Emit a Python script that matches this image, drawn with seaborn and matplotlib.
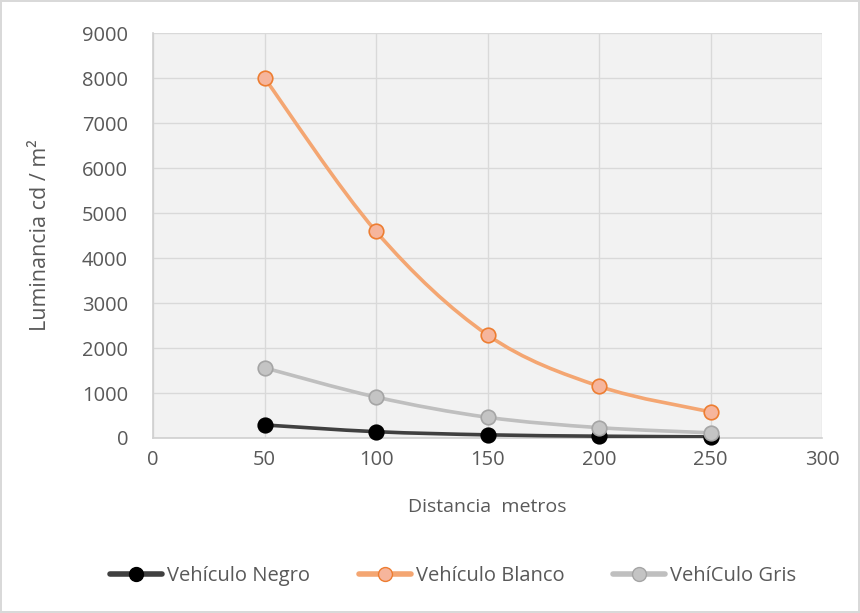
import numpy as np
import pandas as pd
import seaborn as sns
import matplotlib
matplotlib.use("Agg")
import matplotlib.pyplot as plt
from matplotlib.path import Path
from matplotlib.patches import PathPatch
from matplotlib.lines import Line2D

distancia = [50, 100, 150, 200, 250]
negro = [290, 140, 70, 40, 25]
blanco = [8000, 4590, 2290, 1150, 580]
gris = [1560, 910, 460, 230, 115]
series_names = ["Vehículo Negro", "Vehículo Blanco", "VehíCulo Gris"]
x_ticks = [0, 50, 100, 150, 200, 250, 300]
y_ticks = [0, 1000, 2000, 3000, 4000, 5000, 6000, 7000, 8000, 9000]

sns.set_theme(style="white")
plt.rcParams["font.family"] = ["Open Sans", "DejaVu Sans"]

fig = plt.figure(figsize=(8.6, 6.13), dpi=100)
fig.patch.set_facecolor("white")
fig.patch.set_edgecolor("#d9d9d9")
fig.patch.set_linewidth(1.5)
ax = fig.add_axes([0.178, 0.2855, 0.778, 0.6605])
ax.set_facecolor("#f2f2f2")

styles = [
    dict(line="#404040", face="#000000", edge="#000000"),
    dict(line="#f4a672", face="#f6b59c", edge="#ed7d31"),
    dict(line="#bfbfbf", face="#c4c4c4", edge="#a5a5a5"),
]

df = pd.DataFrame({"x": distancia * 3,
                   "y": negro + blanco + gris,
                   "serie": sum([[n] * 5 for n in series_names], [])})


def smooth_path(xs, ys):
    pts = np.column_stack([xs, ys]).astype(float)
    n = len(pts)
    verts = [pts[0]]
    codes = [Path.MOVETO]
    for i in range(n - 1):
        p0 = pts[max(i - 1, 0)]
        p1 = pts[i]
        p2 = pts[i + 1]
        p3 = pts[min(i + 2, n - 1)]
        c1 = p1 + (p2 - p0) / 6.0
        c2 = p2 - (p3 - p1) / 6.0
        verts += [c1, c2, p2]
        codes += [Path.CURVE4] * 3
    return Path(verts, codes)


for name, st, vals in zip(series_names, styles, [negro, blanco, gris]):
    patch = PathPatch(smooth_path(distancia, vals), facecolor="none",
                      edgecolor=st["line"], linewidth=2.6, capstyle="round",
                      zorder=3)
    ax.add_patch(patch)
    sub = df[df["serie"] == name]
    sns.scatterplot(data=sub, x="x", y="y", ax=ax, color=st["face"],
                    edgecolor=st["edge"], linewidth=1.2, s=110, zorder=4,
                    legend=False, clip_on=False)

ax.set_xlim(0, 300)
ax.set_ylim(0, 9000)
ax.set_xticks(x_ticks)
ax.set_yticks(y_ticks)
ax.grid(True, color="#d9d9d9", linewidth=1.0)
ax.set_axisbelow(True)
for s in ["top", "right"]:
    ax.spines[s].set_visible(False)
for s in ["left", "bottom"]:
    ax.spines[s].set_color("#d0d0d0")
    ax.spines[s].set_linewidth(1.2)
ax.tick_params(axis="both", length=0, labelsize=14.5, labelcolor="#595959")
ax.tick_params(axis="x", pad=9)
ax.tick_params(axis="y", pad=18)
ax.set_xlabel("Distancia  metros", fontsize=14, color="#595959", labelpad=20)
ax.set_ylabel("Luminancia cd / m²", fontsize=15.5, color="#595959", labelpad=22)

handles = [Line2D([0], [0], color=st["line"], linewidth=4, marker="o",
                  markersize=10, markerfacecolor=st["face"],
                  markeredgecolor=st["edge"]) for st in styles]
fig.legend(handles, series_names, loc="center", bbox_to_anchor=(0.527, 0.06),
           ncol=3, frameon=False, fontsize=14.5, labelcolor="#595959",
           handlelength=2.6, columnspacing=2.4, handletextpad=0.25)

fig.savefig("out.png", dpi=100, edgecolor=fig.get_edgecolor())
